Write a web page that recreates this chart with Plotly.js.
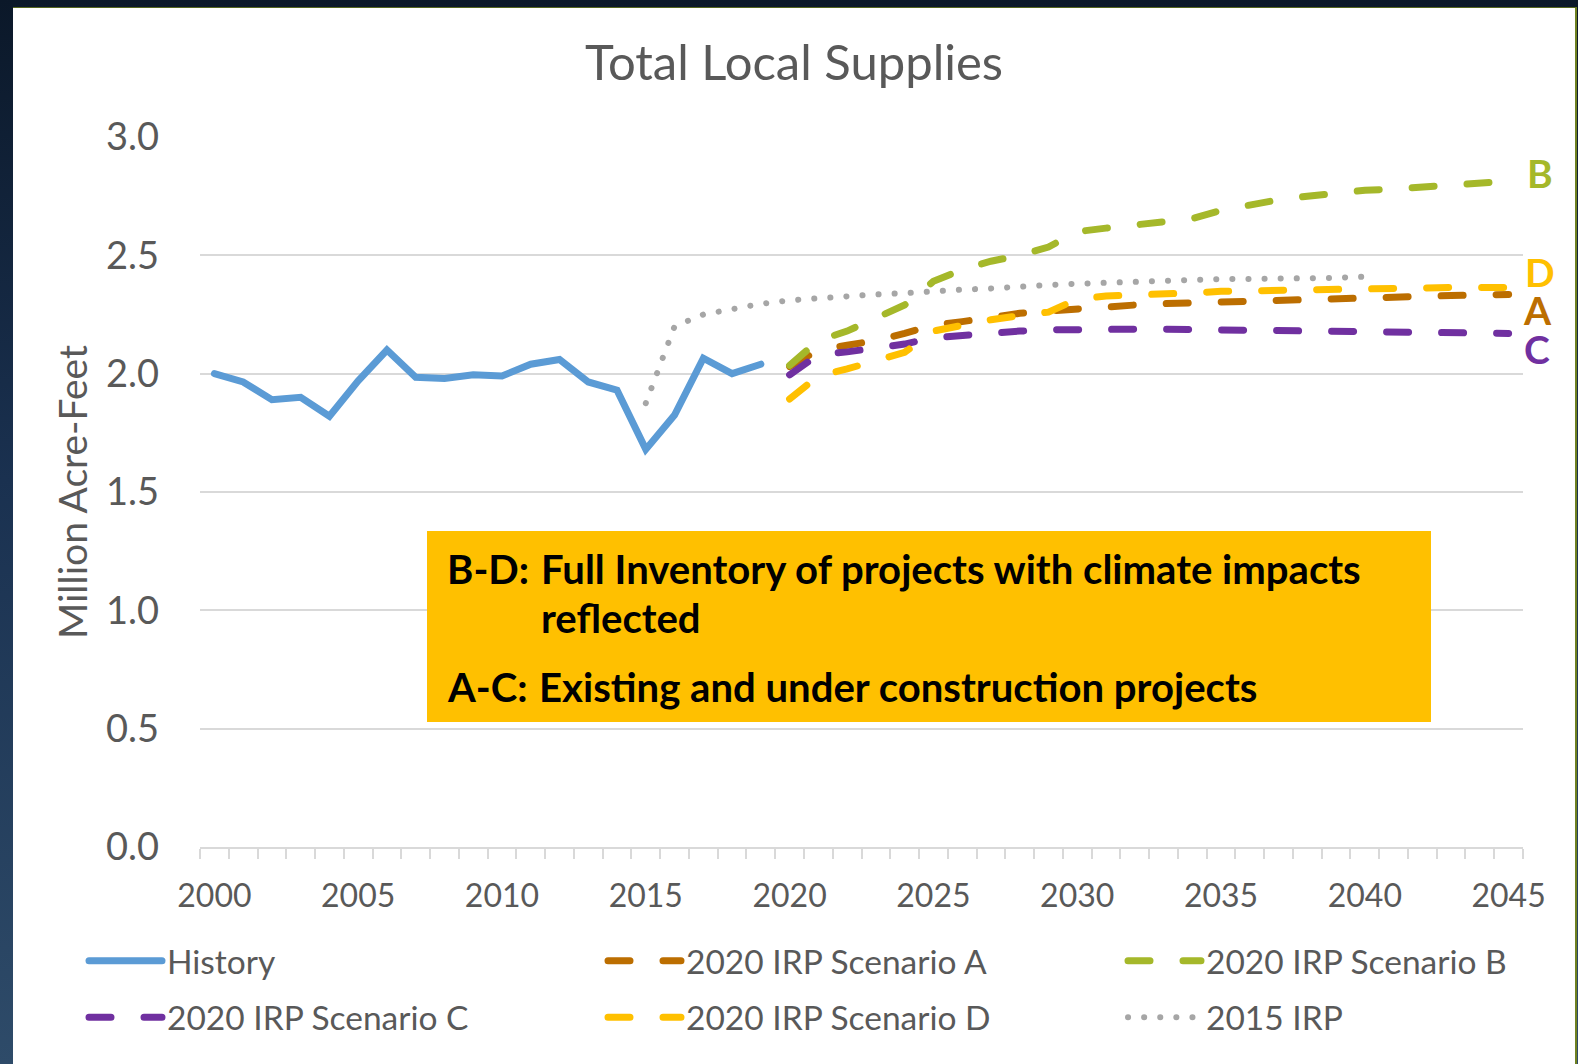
<!DOCTYPE html>
<html>
<head>
<meta charset="utf-8">
<script src="https://cdn.plot.ly/plotly-3.0.1.min.js"></script>
<style>
html,body{margin:0;padding:0;width:1578px;height:1064px;overflow:hidden;
  background:linear-gradient(180deg,#0b1829 0%,#1a3150 45%,#2e4b69 100%);}
#frame{position:absolute;left:13px;top:7px;width:1562px;height:1057px;background:#ffffff;
  border-right:2px solid #6f8121;border-top:1px solid #55651f;}
#chart{width:1562px;height:1056px;}
.js-line{stroke-linecap:round;}
</style>
</head>
<body>
<div id="frame"><div id="chart"></div></div>
<script>
// ---------------- data ----------------
const historyYears = [2000,2001,2002,2003,2004,2005,2006,2007,2008,2009,2010,2011,2012,2013,2014,2015,2016,2017,2018,2019];
const historyValues = [2.00,1.965,1.89,1.90,1.82,1.97,2.10,1.985,1.98,1.995,1.99,2.04,2.06,1.965,1.93,1.68,1.825,2.065,2.00,2.04];

const scenarioYears = [2020,2021,2022,2023,2024,2025,2026,2027,2028,2029,2030,2031,2032,2033,2034,2035,2036,2037,2038,2039,2040,2041,2042,2043,2044,2045];
const scenarioA = [2.03,2.10,2.12,2.14,2.17,2.205,2.22,2.24,2.255,2.265,2.275,2.283,2.29,2.296,2.30,2.305,2.308,2.312,2.315,2.317,2.32,2.323,2.326,2.33,2.332,2.335];
const scenarioB = [2.035,2.14,2.18,2.235,2.29,2.39,2.44,2.475,2.50,2.535,2.60,2.615,2.63,2.64,2.655,2.69,2.715,2.735,2.75,2.765,2.775,2.78,2.79,2.797,2.805,2.813];
const scenarioC = [1.995,2.08,2.092,2.105,2.125,2.152,2.163,2.175,2.18,2.185,2.188,2.188,2.188,2.188,2.187,2.185,2.183,2.18,2.179,2.178,2.177,2.175,2.174,2.172,2.171,2.17];
const scenarioD = [1.893,1.99,2.02,2.055,2.09,2.18,2.207,2.228,2.245,2.26,2.315,2.328,2.333,2.335,2.341,2.348,2.35,2.356,2.358,2.362,2.364,2.364,2.364,2.364,2.364,2.364];

const irp2015Years = [2015,2016,2017,2018,2019,2020,2021,2022,2023,2024,2025,2026,2027,2028,2029,2030,2031,2032,2033,2034,2035,2036,2037,2038,2039,2040];
const irp2015Values = [1.875,2.20,2.25,2.275,2.295,2.31,2.32,2.33,2.335,2.34,2.35,2.355,2.36,2.37,2.375,2.38,2.385,2.385,2.39,2.395,2.40,2.40,2.40,2.405,2.405,2.41];

const xTickValues = [2000,2005,2010,2015,2020,2025,2030,2035,2040,2045];
const yTickValues = [0,0.5,1.0,1.5,2.0,2.5,3.0];

const seriesNames = ['History','2020 IRP Scenario A','2020 IRP Scenario B','2020 IRP Scenario C','2020 IRP Scenario D','2015 IRP'];
const endLabels = ['B','D','A','C'];

// ---------------- style ----------------
const FONT = 'Lato, "Open Sans", sans-serif';
const GREY = '#595959';
const COL = {hist:'#5B9BD5', A:'#BC6E00', B:'#A5B82A', C:'#7030A0', D:'#FFC000', irp:'#A6A6A6'};
const DASH = '22px,33px';
const LW = 7;
const SYMBOL_W = 73;

// page-pixel -> paper helpers (plot area in page coordinates)
const PL = 200, PR = 1523, PT = 137, PB = 847;
const fx = px => (px - PL) / (PR - PL);
const fy = py => (PB - py) / (PB - PT);

const traces = [
  {x: historyYears, y: historyValues, name: seriesNames[0], mode:'lines', legend:'legend',
   line:{color:COL.hist, width:LW}},
  {x: scenarioYears, y: scenarioA, name: seriesNames[1], mode:'lines', legend:'legend2',
   line:{color:COL.A, width:LW, dash:DASH}},
  {x: scenarioYears, y: scenarioB, name: seriesNames[2], mode:'lines', legend:'legend3',
   line:{color:COL.B, width:LW, dash:DASH}},
  {x: scenarioYears, y: scenarioC, name: seriesNames[3], mode:'lines', legend:'legend4',
   line:{color:COL.C, width:LW, dash:DASH}},
  {x: scenarioYears, y: scenarioD, name: seriesNames[4], mode:'lines', legend:'legend5',
   line:{color:COL.D, width:LW, dash:DASH}},
  {x: irp2015Years, y: irp2015Values, name: seriesNames[5], mode:'lines', legend:'legend6',
   line:{color:COL.irp, width:6, dash:'0.1px,16px'}}
];

function legendAt(textLeft, rowCenter){
  return {x: fx(textLeft - (SYMBOL_W + 10)), y: fy(rowCenter), xref:'paper', yref:'paper',
          xanchor:'left', yanchor:'middle', orientation:'h', bgcolor:'rgba(0,0,0,0)',
          borderwidth:0, itemwidth:SYMBOL_W, font:{family:FONT, size:33.5, color:GREY}};
}
const colText = [167, 686, 1206];
const rowMid = [961, 1017.5];

const boxText = {family:FONT, size:40.1, color:'#000000', weight:700};
const annotations = [
  {xref:'paper', yref:'paper', x:fx(445), y:fy(568), text:'B-D:', xanchor:'left', yanchor:'middle', showarrow:false, font:boxText},
  {xref:'paper', yref:'paper', x:fx(539), y:fy(568), text:'Full Inventory of projects with climate impacts', xanchor:'left', yanchor:'middle', showarrow:false, font:boxText},
  {xref:'paper', yref:'paper', x:fx(539), y:fy(617), text:'reflected', xanchor:'left', yanchor:'middle', showarrow:false, font:boxText},
  {xref:'paper', yref:'paper', x:fx(445), y:fy(686), text:'A-C:', xanchor:'left', yanchor:'middle', showarrow:false, font:boxText},
  {xref:'paper', yref:'paper', x:fx(537), y:fy(686), text:'Existing and under construction projects', xanchor:'left', yanchor:'middle', showarrow:false, font:boxText},
  {xref:'paper', yref:'y', x:1, xshift:2, y:2.85, text:endLabels[0], xanchor:'left', yanchor:'middle', showarrow:false, font:{family:FONT, size:39, color:COL.B, weight:700}},
  {xref:'paper', yref:'y', x:1, xshift:0, y:2.43, text:endLabels[1], xanchor:'left', yanchor:'middle', showarrow:false, font:{family:FONT, size:39, color:COL.D, weight:700}},
  {xref:'paper', yref:'y', x:1, xshift:-2, y:2.27, text:endLabels[2], xanchor:'left', yanchor:'middle', showarrow:false, font:{family:FONT, size:39, color:COL.A, weight:700}},
  {xref:'paper', yref:'y', x:1, xshift:-1, y:2.105, text:endLabels[3], xanchor:'left', yanchor:'middle', showarrow:false, font:{family:FONT, size:39, color:COL.C, weight:700}}
];

const layout = {
  width:1562, height:1056,
  margin:{l:187, r:52, t:129, b:217, pad:0},
  paper_bgcolor:'#ffffff', plot_bgcolor:'#ffffff',
  font:{family:FONT, color:GREY},
  title:{text:'Total Local Supplies', font:{family:FONT, size:49, color:GREY},
         x:0.5, xref:'container', xanchor:'center', y:1 - 55/1056, yref:'container', yanchor:'middle'},
  xaxis:{range:[1999.5,2045.5], tickmode:'array', tickvals:xTickValues, ticktext:xTickValues.map(String),
         ticks:'', showgrid:false, zeroline:false, showline:true, linecolor:'#D9D9D9', linewidth:1.5,
         tickfont:{family:FONT, size:32, color:GREY}, ticklabelstandoff:20,
         minor:{tickmode:'linear', tick0:1999.5, dtick:1, ticks:'outside', ticklen:10, tickwidth:1.5, tickcolor:'#D9D9D9', showgrid:false}},
  yaxis:{range:[0,3], tickmode:'array', tickvals:yTickValues, ticktext:yTickValues.map(v=>v.toFixed(1)),
         ticks:'', showgrid:true, gridcolor:'#D9D9D9', gridwidth:1.5, zeroline:false, showline:false,
         tickfont:{family:FONT, size:38, color:GREY}, ticklabelstandoff:40,
         title:{text:'Million Acre-Feet', font:{family:FONT, size:39, color:GREY}, standoff:6}},
  showlegend:true,
  legend: legendAt(colText[0], rowMid[0]),
  legend2: legendAt(colText[1], rowMid[0]),
  legend3: legendAt(colText[2], rowMid[0]),
  legend4: legendAt(colText[0], rowMid[1]),
  legend5: legendAt(colText[1], rowMid[1]),
  legend6: legendAt(colText[2], rowMid[1]),
  shapes:[{type:'rect', xref:'paper', yref:'paper', x0:fx(427), x1:fx(1431), y0:fy(722), y1:fy(531),
           fillcolor:'#FFC000', line:{width:0}, layer:'above'}],
  annotations: annotations
};

const gd = document.getElementById('chart');
// lengthen the legend line symbols to the full item width (Excel-style legend keys)
function stretchLegendLines(){
  gd.querySelectorAll('.legendlines path.js-line').forEach(function(p){
    const want = 'M5,0h' + SYMBOL_W;
    if(p.getAttribute('d') !== want) p.setAttribute('d', want);
  });
}
Plotly.newPlot(gd, traces, layout, {displayModeBar:false});
stretchLegendLines();
if(gd.on) gd.on('plotly_afterplot', stretchLegendLines);
setTimeout(stretchLegendLines, 50);
setTimeout(stretchLegendLines, 400);
</script>
</body>
</html>
